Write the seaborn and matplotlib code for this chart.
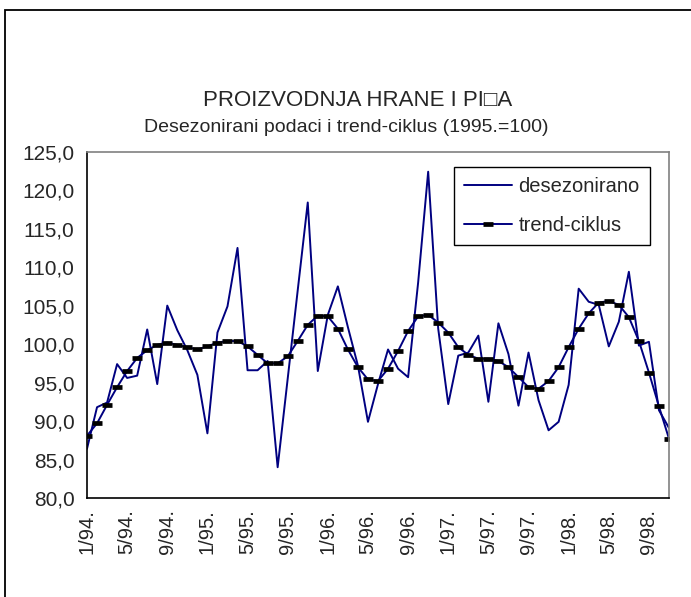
import numpy as np
import pandas as pd
import matplotlib
matplotlib.use("Agg")
import matplotlib.pyplot as plt
import seaborn as sns

# Monthly series, 1/94 .. 11/98 (1995.=100)
months = [f"{m}/{y}." for y in range(94, 99) for m in range(1, 13)][:59]

desezonirano = [
    86.4, 91.8, 92.4, 97.4, 95.6, 95.9, 101.9, 94.8, 105.0, 101.8, 99.2, 96.0,
    88.4, 101.5, 104.9, 112.5, 96.6, 96.6, 97.8, 84.0, 95.5, 107.0, 118.4, 96.5,
    103.8, 107.5, 102.2, 97.2, 89.9, 94.8, 99.3, 96.8, 95.7, 108.0, 122.4, 102.0,
    92.2, 98.5, 98.9, 101.1, 92.5, 102.7, 98.7, 92.0, 98.9, 92.7, 88.8, 89.9,
    94.7, 107.2, 105.5, 105.1, 99.7, 102.9, 109.4, 99.8, 100.3, 91.4, 89.1,
]

trend_ciklus = [
    88.1, 89.7, 92.1, 94.4, 96.5, 98.2, 99.2, 99.9, 100.2, 99.9, 99.6, 99.3,
    99.7, 100.2, 100.4, 100.4, 99.7, 98.6, 97.5, 97.5, 98.4, 100.4, 102.5, 103.7,
    103.6, 102.0, 99.3, 97.0, 95.4, 95.2, 96.8, 99.1, 101.7, 103.6, 103.8, 102.8,
    101.5, 99.6, 98.6, 98.1, 98.1, 97.8, 97.0, 95.7, 94.4, 94.2, 95.2, 97.0,
    99.6, 102.0, 104.0, 105.4, 105.6, 105.1, 103.5, 100.4, 96.3, 91.9, 87.7,
]

y_ticks = [80, 85, 90, 95, 100, 105, 110, 115, 120, 125]

df = pd.DataFrame({
    "idx": np.arange(len(months)),
    "mjesec": months,
    "desezonirano": desezonirano,
    "trend-ciklus": trend_ciklus,
})

sns.set_style("white")
plt.rcParams["font.family"] = ["Liberation Sans", "DejaVu Sans"]

fig = plt.figure(figsize=(6.91, 5.97), dpi=100)
ax = fig.add_axes([87 / 691, 99 / 597, 582 / 691, 346.3 / 597])

navy = "#000080"
sns.lineplot(data=df, x="idx", y="desezonirano", ax=ax, color=navy,
             linewidth=1.4, label="desezonirano")
sns.lineplot(data=df, x="idx", y="trend-ciklus", ax=ax, color=navy,
             linewidth=1.4, marker="_", markersize=7, markeredgewidth=3.4,
             markeredgecolor="black", markerfacecolor="black",
             label="trend-ciklus")

ax.set_xlim(0, len(months) - 1)
ax.set_ylim(80, 125)
ax.set_yticks(y_ticks)
ax.set_yticklabels([f"{v:.1f}".replace(".", ",") for v in y_ticks], fontsize=15)
ax.set_xticks(df["idx"])
ax.set_xticklabels([m if i % 4 == 0 else "" for i, m in enumerate(months)],
                   rotation=90, fontsize=14.5)
ax.tick_params(axis="x", direction="inout", length=8, width=1, color="black", pad=4)
ax.tick_params(axis="y", direction="out", length=6, width=1, color="black", pad=3)
ax.set_xlabel("")
ax.set_ylabel("")

for side in ["left", "bottom"]:
    ax.spines[side].set_color("black")
    ax.spines[side].set_linewidth(1.2)
for side in ["top", "right"]:
    ax.spines[side].set_visible(True)
    ax.spines[side].set_color("#808080")
    ax.spines[side].set_linewidth(1.2)

leg = ax.legend(loc="upper left", bbox_to_anchor=(0.6306, 0.956), fontsize=14.5,
                frameon=True, fancybox=False, edgecolor="black", framealpha=1,
                handlelength=2.4, handletextpad=0.3, labelspacing=1.0,
                borderpad=0.5, borderaxespad=0)
leg.get_frame().set_linewidth(1.0)

fig.text(0.517, 1 - 100 / 597, "PROIZVODNJA HRANE I PI\u25a1A", ha="center",
         va="center", fontsize=16)
fig.text(0.501, 1 - 127 / 597, "Desezonirani podaci i trend-ciklus (1995.=100)",
         ha="center", va="center", fontsize=14)

# outer chart frame (left and top edges visible)
frame = plt.Rectangle((5.5 / 691, -0.1), 1.2, 1.1 - 9.5 / 597, transform=fig.transFigure,
                      fill=False, edgecolor="black", linewidth=1.3, clip_on=False)
fig.add_artist(frame)

fig.savefig("out.png", dpi=100)
